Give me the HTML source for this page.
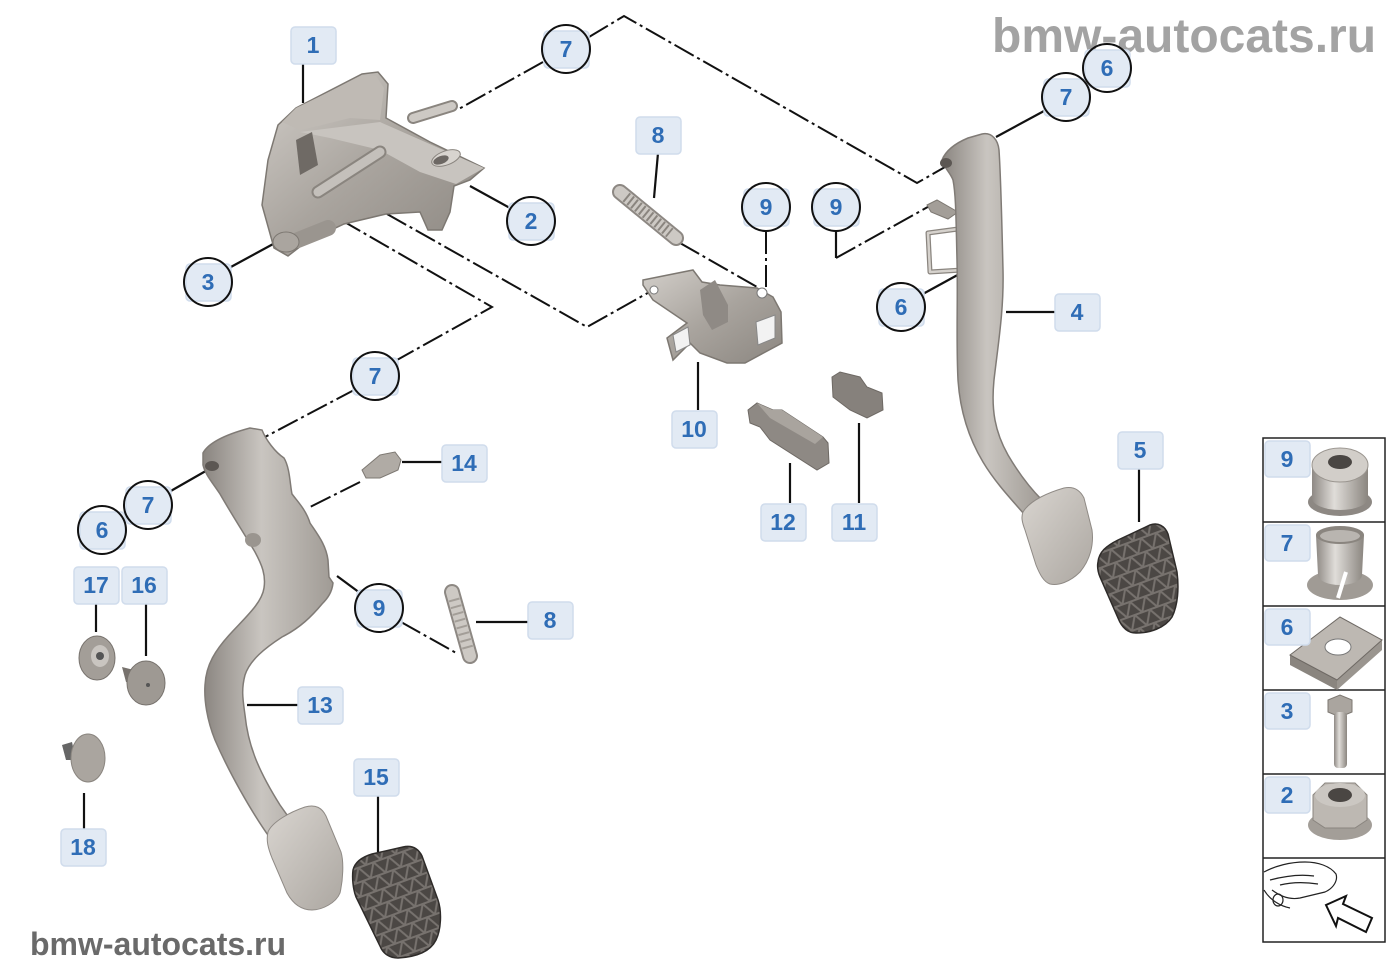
<!DOCTYPE html>
<html><head><meta charset="utf-8"><style>
html,body{margin:0;padding:0;background:#fff;}
svg{display:block;}
.lb rect{fill:#e2eaf4;stroke:#d0dcec;stroke-width:1.5;}
.lb text{font-family:"Liberation Sans",sans-serif;font-weight:bold;font-size:23px;fill:#2f6db6;text-anchor:middle;}
.ci{fill:none;stroke:#111;stroke-width:2;}
.dd{fill:none;stroke:#111;stroke-width:2;stroke-dasharray:22 4 3 4;}
.sl{fill:none;stroke:#111;stroke-width:2.2;}
.wm{font-family:"Liberation Sans",sans-serif;font-weight:bold;}
</style></head><body>
<svg width="1400" height="980" viewBox="0 0 1400 980" xmlns="http://www.w3.org/2000/svg">
<defs>
<linearGradient id="g1" x1="0" y1="0" x2="1" y2="1"><stop offset="0" stop-color="#d2cec9"/><stop offset="0.5" stop-color="#a9a49e"/><stop offset="1" stop-color="#8c8781"/></linearGradient>
<linearGradient id="arm" x1="0" y1="0" x2="1" y2="0"><stop offset="0" stop-color="#8a8580"/><stop offset="0.45" stop-color="#c9c5c0"/><stop offset="1" stop-color="#a09b95"/></linearGradient>
<linearGradient id="pad" x1="0" y1="0" x2="1" y2="1"><stop offset="0" stop-color="#d9d5d0"/><stop offset="1" stop-color="#aca7a1"/></linearGradient>
<linearGradient id="cyl" x1="0" y1="0" x2="1" y2="0"><stop offset="0" stop-color="#8e8984"/><stop offset="0.4" stop-color="#e0ddd9"/><stop offset="1" stop-color="#8a857f"/></linearGradient>
<pattern id="tri" width="16" height="14" patternUnits="userSpaceOnUse" patternTransform="rotate(-20)">
<rect width="16" height="14" fill="#4b4744"/>
<path d="M0,14 L8,0 L16,14 Z M0,0 L16,0" fill="none" stroke="#77726e" stroke-width="2"/>
</pattern>
</defs>

<!-- watermarks -->
<text class="wm" x="992" y="52" font-size="48" fill="#a3a3a3">bmw-autocats.ru</text>
<text class="wm" x="30" y="955" font-size="32" fill="#6a6a6a">bmw-autocats.ru</text>

<!-- connector lines -->
<path class="dd" d="M543,62 L457,110"/>
<path class="dd" d="M589,37 L624,16 L917,183 L945,167"/>
<path class="dd" d="M322,187 L303,198 L492,307 L397,360"/>
<path class="dd" d="M356,389 L265,437"/>
<path class="dd" d="M387,214 L587,327 L653,290"/>
<path class="dd" d="M680,243 L757,287"/>
<path class="dd" d="M766,232 L766,293"/>
<path class="dd" d="M836,258 L935,203"/>
<path class="dd" d="M360,482 L308,508"/>
<path class="dd" d="M401,622 L458,654"/>

<path class="sl" d="M303,63 L303,103"/>
<path class="sl" d="M470,186 L510,208"/>
<path class="sl" d="M229,268 L275,243"/>
<path class="sl" d="M658,153 L654,198"/>
<path class="sl" d="M698,362 L698,410"/>
<path class="sl" d="M790,463 L790,503"/>
<path class="sl" d="M859,423 L859,503"/>
<path class="sl" d="M921,295 L963,272"/>
<path class="sl" d="M1006,312 L1055,312"/>
<path class="sl" d="M1044,111 L996,137"/>
<path class="sl" d="M1139,468 L1139,522"/>
<path class="sl" d="M402,462 L442,462"/>
<path class="sl" d="M169,492 L211,468"/>
<path class="sl" d="M337,576 L360,593"/>
<path class="sl" d="M476,622 L528,622"/>
<path class="sl" d="M96,603 L96,632"/>
<path class="sl" d="M146,603 L146,656"/>
<path class="sl" d="M247,705 L298,705"/>
<path class="sl" d="M378,796 L378,852"/>
<path class="sl" d="M84,793 L84,829"/>
<path class="sl" d="M836,231 L836,258"/>

<!-- bracket 1 -->
<polygon points="262,205 268,160 278,125 296,108 362,74 378,72 388,84 386,118 430,142 484,168 470,180 454,186 450,212 442,230 428,230 420,212 386,214 344,224 306,242 288,256 274,248" fill="url(#g1)" stroke="#7d7872" stroke-width="1.5"/>
<polygon points="282,122 296,108 362,76 376,76 384,88 380,120 350,118 318,126 300,130" fill="#bfbab4"/>
<polygon points="380,122 484,168 456,184 420,172 380,150 330,138 300,132" fill="#c8c4bf"/>
<polygon points="296,140 312,132 318,165 300,175" fill="#6f6a65"/>
<line x1="318" y1="192" x2="380" y2="152" stroke="#8a857f" stroke-width="13" stroke-linecap="round"/>
<line x1="318" y1="192" x2="380" y2="152" stroke="#c4c0bb" stroke-width="9" stroke-linecap="round"/>
<line x1="413" y1="118" x2="452" y2="106" stroke="#8a857f" stroke-width="12" stroke-linecap="round"/>
<line x1="413" y1="118" x2="452" y2="106" stroke="#cdc9c4" stroke-width="8" stroke-linecap="round"/>
<line x1="298" y1="240" x2="328" y2="228" stroke="#9a958f" stroke-width="16" stroke-linecap="round"/>
<ellipse cx="286" cy="242" rx="13" ry="10" fill="#aaa59f" stroke="#7d7872"/>
<ellipse cx="446" cy="158" rx="15" ry="7" transform="rotate(-20 446 158)" fill="#d8d4cf" stroke="#8a857f"/>
<ellipse cx="441" cy="160" rx="8" ry="4" transform="rotate(-20 441 160)" fill="#6d6864"/>

<!-- bracket 10 -->
<polygon points="643,280 693,270 702,282 720,285 757,288 773,297 781,312 782,343 745,363 727,363 700,353 690,343 673,360 667,338 687,323 653,300 643,285" fill="url(#g1)" stroke="#7d7872" stroke-width="1.5"/>
<polygon points="673,335 688,327 690,345 676,352" fill="#f2f2f2" stroke="#888"/>
<polygon points="756,322 775,315 775,338 758,345" fill="#f2f2f2" stroke="#888"/>
<polygon points="700,290 715,280 728,305 728,322 712,330 703,315" fill="#8f8a85"/>
<circle cx="762" cy="293" r="5" fill="#fff" stroke="#777"/>
<circle cx="654" cy="290" r="4" fill="#fff" stroke="#777"/>

<!-- part 12 & 11 -->
<polygon points="748,410 757,403 773,410 782,410 823,437 828,443 829,463 817,470 770,440 760,427 750,423" fill="#8e8984" stroke="#6e6964"/>
<polygon points="757,403 773,410 782,410 823,437 815,444 770,418" fill="#a9a49e"/>
<polygon points="832,377 840,372 860,377 867,387 882,393 883,410 867,418 850,410 833,397" fill="#86817c" stroke="#6e6964"/>

<!-- springs -->
<line x1="620" y1="192" x2="676" y2="238" stroke="#8d8883" stroke-width="16" stroke-linecap="round"/>
<line x1="620" y1="192" x2="676" y2="238" stroke="#cdc9c4" stroke-width="12" stroke-linecap="round"/>
<line x1="626" y1="197" x2="670" y2="233" stroke="#8a857f" stroke-width="11" stroke-dasharray="2 3"/>
<line x1="452" y1="592" x2="470" y2="656" stroke="#8d8883" stroke-width="16" stroke-linecap="round"/>
<line x1="452" y1="592" x2="470" y2="656" stroke="#cdc9c4" stroke-width="12" stroke-linecap="round"/>
<line x1="454" y1="599" x2="468" y2="649" stroke="#a39e98" stroke-width="11" stroke-dasharray="2 5"/>

<!-- pin 14 -->
<polygon points="362,470 380,455 395,452 401,460 398,470 380,478 366,478" fill="#b0aba5" stroke="#7d7872"/>

<!-- small parts 16,17,18 -->
<ellipse cx="97" cy="658" rx="18" ry="22" fill="#a39e98" stroke="#77726d"/>
<ellipse cx="100" cy="656" rx="9" ry="11" fill="#c9c5c0"/>
<circle cx="100" cy="656" r="4" fill="#555"/>
<polygon points="122,667 134,670 134,684 126,682" fill="#77726d"/>
<ellipse cx="146" cy="683" rx="19" ry="22" fill="#9e9993" stroke="#77726d"/>
<circle cx="148" cy="685" r="2" fill="#555"/>
<polygon points="62,745 72,742 76,760 66,760" fill="#666"/>
<ellipse cx="88" cy="758" rx="17" ry="24" fill="#aaa59f" stroke="#8a857f"/>

<!-- pedal 13 -->
<path d="M203,453 C210,440 235,432 250,428 L262,430 C266,440 275,452 284,458 C290,468 290,485 292,494 C298,502 306,510 310,523 C318,535 326,545 328,560 L329,577 L333,583 C332,592 328,598 322,604 C312,616 300,628 282,637 C265,648 250,660 245,675 C241,690 243,700 245,715 C248,745 258,770 280,805 L292,822 L270,838 C250,810 228,770 215,740 C207,720 204,700 205,685 C206,665 215,650 232,632 C248,615 262,602 264,588 C266,575 262,565 255,552 C245,535 232,515 220,494 C212,482 205,474 203,465 Z" fill="url(#arm)" stroke="#807b76" stroke-width="1.5"/>
<ellipse cx="212" cy="466" rx="7" ry="5" fill="#5c5753"/>
<ellipse cx="253" cy="540" rx="8" ry="7" fill="#9a958f"/>
<path d="M268,832 C272,822 290,812 305,807 C316,804 322,808 326,816 L341,852 C344,862 343,880 340,893 C336,903 322,910 312,910 C300,910 292,902 287,893 L272,858 C268,848 266,840 268,832 Z" fill="url(#pad)" stroke="#8f8a85"/>
<path d="M353,870 C355,862 362,857 372,854 L403,847 C412,845 418,848 422,856 L438,900 C442,912 441,930 436,940 C430,952 415,957 398,958 C390,958 383,954 380,946 L356,897 C353,889 352,878 353,870 Z" fill="url(#tri)" stroke="#2e2b29" stroke-width="1.5"/>

<!-- pedal 4 -->
<path d="M928,233 L958,229 L962,270 L930,272 Z" fill="none" stroke="#8a857f" stroke-width="5" stroke-linejoin="round"/>
<path d="M928,233 L958,229 L962,270 L930,272 Z" fill="none" stroke="#d6d2cd" stroke-width="2.5" stroke-linejoin="round"/>
<polygon points="927,205 937,200 958,212 948,219 931,212" fill="#a39e98" stroke="#7d7872"/>
<path d="M942,160 C946,150 956,143 968,138 L982,134 C992,132 998,140 999,150 C1001,180 1002,230 1003,270 C1004,310 998,345 994,380 C991,410 995,432 1008,455 C1018,472 1030,488 1042,500 L1025,515 C1010,498 995,482 983,462 C968,437 960,410 958,380 C956,340 958,300 957,260 C956,220 956,195 953,180 C950,172 944,168 942,160 Z" fill="url(#arm)" stroke="#807b76" stroke-width="1.5"/>
<ellipse cx="946" cy="163" rx="6" ry="5" fill="#5c5753"/>
<path d="M1023,512 C1030,500 1050,492 1064,488 C1074,486 1080,490 1084,498 L1092,530 C1094,545 1090,560 1080,572 C1070,582 1058,586 1050,584 C1044,582 1040,575 1036,565 L1025,530 C1022,522 1021,517 1023,512 Z" fill="url(#pad)" stroke="#8f8a85"/>
<path d="M1098,562 C1099,552 1106,546 1118,540 L1150,525 C1158,522 1165,526 1168,534 L1177,572 C1179,588 1178,605 1172,617 C1165,628 1150,633 1136,633 C1128,633 1122,628 1118,618 L1100,577 C1098,572 1097,567 1098,562 Z" fill="url(#tri)" stroke="#2e2b29" stroke-width="1.5"/>

<!-- right panel -->
<rect x="1263" y="438" width="122" height="504" fill="#fff" stroke="#222" stroke-width="1.5"/>
<path d="M1263,522 H1385 M1263,606 H1385 M1263,690 H1385 M1263,774 H1385 M1263,858 H1385" stroke="#222" stroke-width="1.5"/>
<!-- 9 -->
<ellipse cx="1340" cy="502" rx="32" ry="14" fill="#8d8883"/>
<path d="M1312,465 L1312,498 A28,12 0 0 0 1368,498 L1368,465 Z" fill="url(#cyl)"/>
<ellipse cx="1340" cy="465" rx="28" ry="17" fill="#d2cec9" stroke="#9a958f"/>
<ellipse cx="1340" cy="462" rx="12" ry="7" fill="#4a4643"/>
<!-- 7 -->
<ellipse cx="1340" cy="585" rx="33" ry="15" fill="#a09b95"/>
<path d="M1316,535 L1318,575 A22,10 0 0 0 1362,575 L1364,535 Z" fill="url(#cyl)"/>
<ellipse cx="1340" cy="535" rx="24" ry="9" fill="#8a857f"/>
<ellipse cx="1340" cy="536" rx="20" ry="6" fill="#b9b5b0"/>
<line x1="1338" y1="598" x2="1346" y2="572" stroke="#fff" stroke-width="4"/>
<!-- 6 -->
<polygon points="1290,655 1290,665 1337,690 1337,680" fill="#8a857f"/>
<polygon points="1337,680 1337,690 1382,650 1382,640" fill="#9a958f"/>
<polygon points="1290,655 1340,617 1382,640 1337,680" fill="#bdb8b2" stroke="#6e6964"/>
<ellipse cx="1338" cy="647" rx="13" ry="8" fill="#fff" stroke="#777"/>
<!-- 3 -->
<polygon points="1328,700 1340,695 1352,700 1352,712 1340,717 1328,712" fill="#aaa59f" stroke="#7d7872"/>
<rect x="1334" y="712" width="13" height="56" rx="4" fill="url(#cyl)"/>
<!-- 2 -->
<ellipse cx="1340" cy="825" rx="32" ry="15" fill="#a39e98"/>
<polygon points="1313,795 1325,783 1355,783 1367,795 1367,820 1355,828 1325,828 1313,820" fill="#bdb8b2" stroke="#8a857f"/>
<ellipse cx="1340" cy="795" rx="25" ry="12" fill="#cbc7c2"/>
<ellipse cx="1340" cy="795" rx="12" ry="7" fill="#4a4643"/>
<!-- car -->
<g fill="none" stroke="#222" stroke-width="1.2">
<path d="M1264,872 C1275,866 1290,862 1305,862 C1318,862 1330,866 1336,874 C1338,880 1334,888 1325,892 L1300,898 C1290,900 1280,896 1272,890"/>
<path d="M1270,880 C1285,876 1300,874 1314,876"/>
<path d="M1280,885 C1292,882 1305,882 1318,884"/>
<path d="M1264,890 C1270,900 1280,906 1290,908"/>
<ellipse cx="1278" cy="900" rx="5" ry="6"/>
</g>
<polygon points="1326,905 1346,896 1343,904 1372,918 1366,932 1338,918 1336,926" fill="#fff" stroke="#111" stroke-width="2"/>

<!-- labels -->
<g class="lb">
<rect x="291" y="27" width="45" height="37" rx="4"/><text x="313" y="53">1</text>
<rect x="544" y="31" width="45" height="37" rx="4"/><text x="566" y="57">7</text>
<rect x="509" y="203" width="45" height="37" rx="4"/><text x="531" y="229">2</text>
<rect x="186" y="264" width="45" height="37" rx="4"/><text x="208" y="290">3</text>
<rect x="636" y="117" width="45" height="37" rx="4"/><text x="658" y="143">8</text>
<rect x="744" y="189" width="45" height="37" rx="4"/><text x="766" y="215">9</text>
<rect x="814" y="189" width="45" height="37" rx="4"/><text x="836" y="215">9</text>
<rect x="672" y="411" width="45" height="37" rx="4"/><text x="694" y="437">10</text>
<rect x="761" y="504" width="45" height="37" rx="4"/><text x="783" y="530">12</text>
<rect x="832" y="504" width="45" height="37" rx="4"/><text x="854" y="530">11</text>
<rect x="1085" y="50" width="45" height="37" rx="4"/><text x="1107" y="76">6</text>
<rect x="1044" y="79" width="45" height="37" rx="4"/><text x="1066" y="105">7</text>
<rect x="879" y="289" width="45" height="37" rx="4"/><text x="901" y="315">6</text>
<rect x="1055" y="294" width="45" height="37" rx="4"/><text x="1077" y="320">4</text>
<rect x="1118" y="432" width="45" height="37" rx="4"/><text x="1140" y="458">5</text>
<rect x="353" y="358" width="45" height="37" rx="4"/><text x="375" y="384">7</text>
<rect x="442" y="445" width="45" height="37" rx="4"/><text x="464" y="471">14</text>
<rect x="126" y="487" width="45" height="37" rx="4"/><text x="148" y="513">7</text>
<rect x="80" y="512" width="45" height="37" rx="4"/><text x="102" y="538">6</text>
<rect x="74" y="567" width="45" height="37" rx="4"/><text x="96" y="593">17</text>
<rect x="122" y="567" width="45" height="37" rx="4"/><text x="144" y="593">16</text>
<rect x="357" y="590" width="45" height="37" rx="4"/><text x="379" y="616">9</text>
<rect x="528" y="602" width="45" height="37" rx="4"/><text x="550" y="628">8</text>
<rect x="298" y="687" width="45" height="37" rx="4"/><text x="320" y="713">13</text>
<rect x="354" y="759" width="45" height="37" rx="4"/><text x="376" y="785">15</text>
<rect x="61" y="829" width="45" height="37" rx="4"/><text x="83" y="855">18</text>
<rect x="1265" y="441" width="45" height="36" rx="4"/><text x="1287" y="467">9</text>
<rect x="1265" y="525" width="45" height="36" rx="4"/><text x="1287" y="551">7</text>
<rect x="1265" y="609" width="45" height="36" rx="4"/><text x="1287" y="635">6</text>
<rect x="1265" y="693" width="45" height="36" rx="4"/><text x="1287" y="719">3</text>
<rect x="1265" y="777" width="45" height="36" rx="4"/><text x="1287" y="803">2</text>
</g>
<g class="ci">
<circle cx="566" cy="49" r="24"/>
<circle cx="531" cy="221" r="24"/>
<circle cx="208" cy="282" r="24"/>
<circle cx="766" cy="207" r="24"/>
<circle cx="836" cy="207" r="24"/>
<circle cx="1107" cy="68" r="24"/>
<circle cx="1066" cy="97" r="24"/>
<circle cx="901" cy="307" r="24"/>
<circle cx="375" cy="376" r="24"/>
<circle cx="148" cy="505" r="24"/>
<circle cx="102" cy="530" r="24"/>
<circle cx="379" cy="608" r="24"/>
</g>
</svg>
</body></html>
